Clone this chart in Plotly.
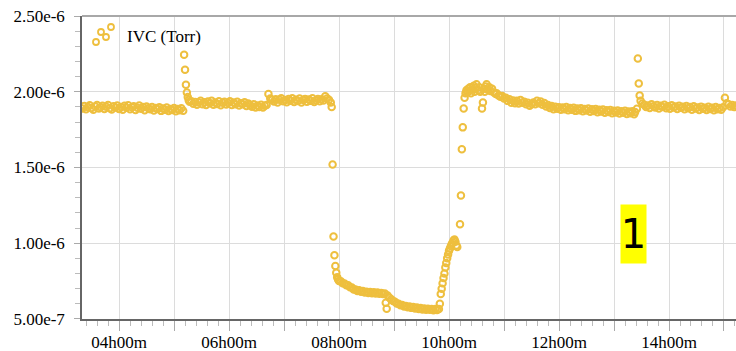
import pandas as pd
import plotly.graph_objects as go

# ---- data: minutes since midnight, IVC pressure in 1e-6 Torr ----
t_a = [200, 202, 204, 206, 208, 210, 212, 214, 216, 218, 220, 222, 224, 226, 228, 230, 232, 234, 236, 238,
       240, 242, 244, 246, 248, 250, 252, 254, 256, 258, 260, 262, 264, 266, 268, 270, 272, 274, 276, 278,
       280, 282, 284, 286, 288, 290, 292, 294, 296, 298, 300, 302, 304, 306, 308, 310]
v_a = [1.890, 1.906, 1.884, 1.899, 1.911, 1.893, 1.881, 1.903, 1.912, 1.889, 1.898, 1.908, 1.886, 1.901, 1.913, 1.892, 1.883, 1.905, 1.896, 1.910,
       1.887, 1.900, 1.882, 1.907, 1.894, 1.911, 1.885, 1.898, 1.904, 1.880, 1.895, 1.909, 1.888, 1.899, 1.878, 1.903, 1.891, 1.884, 1.900, 1.876,
       1.893, 1.886, 1.898, 1.874, 1.890, 1.882, 1.896, 1.873, 1.887, 1.879, 1.893, 1.871, 1.886, 1.878, 1.891, 1.875]

t_b = [311, 312, 313, 314, 315, 316, 317,
       319, 321, 323, 325, 327, 329, 331, 333, 335, 337, 339, 341, 343, 345, 347, 349, 351, 353, 355, 357,
       359, 361, 363, 365, 367, 369, 371, 373, 375, 377, 379, 381, 383, 385, 387, 389, 391, 393, 395, 397,
       399, 401, 403, 405, 407]
v_b = [2.245, 2.145, 2.046, 1.995, 1.965, 1.945, 1.935,
       1.938, 1.921, 1.933, 1.914, 1.929, 1.941, 1.918, 1.931, 1.912, 1.936, 1.924, 1.940, 1.915, 1.930, 1.920, 1.937, 1.911, 1.928, 1.934, 1.916,
       1.926, 1.938, 1.913, 1.929, 1.918, 1.934, 1.909, 1.925, 1.917, 1.931, 1.906, 1.922, 1.912, 1.902, 1.918, 1.897, 1.910, 1.900, 1.915, 1.896,
       1.908, 1.912, 1.985, 1.955, 1.947]

t_c = [409, 411, 413, 415, 417, 419, 421, 423, 425, 427, 429, 431, 433, 435, 437, 439, 441, 443, 445, 447,
       449, 451, 453, 455, 457, 459, 461, 463, 465, 467, 469, 471, 472, 473, 474, 475, 476, 477, 478, 479, 480]
v_c = [1.936, 1.951, 1.930, 1.947, 1.957, 1.938, 1.945, 1.931, 1.953, 1.941, 1.958, 1.933, 1.948, 1.939, 1.955, 1.929, 1.946, 1.952, 1.935, 1.949,
       1.940, 1.957, 1.932, 1.944, 1.953, 1.937, 1.950, 1.942, 1.970, 1.955, 1.948, 1.930, 1.900, 1.520, 1.045, 0.920, 0.850, 0.805, 0.775, 0.760, 0.750]

t_d = [482, 484, 486, 488, 490, 492, 494, 496, 498, 500, 502, 504, 506, 508, 510, 512, 514, 516, 518, 520,
       522, 524, 526, 528, 530, 531, 532, 533, 535, 537, 539, 541, 543, 545, 547, 549, 551, 553, 555, 557,
       559, 561, 563, 565, 567, 569, 571, 573, 575, 577, 579, 581, 583, 585, 587, 589]
v_d = [0.748, 0.736, 0.734, 0.722, 0.722, 0.709, 0.708, 0.695, 0.694, 0.684, 0.689, 0.680, 0.684, 0.675, 0.680, 0.672, 0.677, 0.669, 0.676, 0.668,
       0.674, 0.667, 0.672, 0.664, 0.668, 0.607, 0.567, 0.655, 0.640, 0.630, 0.618, 0.614, 0.602, 0.600, 0.590, 0.592, 0.582, 0.586, 0.577, 0.582,
       0.573, 0.578, 0.569, 0.575, 0.566, 0.572, 0.563, 0.569, 0.561, 0.567, 0.560, 0.566, 0.558, 0.565, 0.559, 0.566]

t_e = [590, 591, 592, 593, 594, 595, 596, 597, 598, 599, 600, 601, 602, 603, 604, 605, 606, 607, 608, 609,
       612, 613, 614, 615, 616, 617, 618,
       619, 620, 621, 622, 623, 624, 625, 627, 628, 629, 630, 632, 633, 634, 636, 637, 638, 639, 640, 641,
       642, 644, 645, 647, 649, 651]
v_e = [0.600, 0.665, 0.700, 0.735, 0.770, 0.800, 0.840, 0.870, 0.900, 0.925, 0.950, 0.965, 0.980, 0.995, 1.005, 1.020, 1.025, 1.010, 0.985, 0.975,
       1.125, 1.315, 1.620, 1.765, 1.890, 1.960, 1.990,
       2.010, 1.995, 2.020, 2.005, 2.030, 1.990, 2.015, 2.040, 2.000, 2.025, 2.050, 2.010, 2.030, 2.000, 1.890, 1.930, 2.020, 2.000, 2.035, 2.050,
       2.015, 2.030, 2.005, 2.020, 1.995, 1.985]

t_f = [652, 654, 656, 658, 660, 662, 664, 666, 668, 670, 672, 674, 676, 678, 680, 682, 684, 686, 688, 690,
       692, 694, 696, 698, 700, 702, 704, 706, 708, 710, 712, 714, 716, 718, 720, 722, 724, 726, 728, 730,
       732, 734, 736, 738, 740, 742, 744, 746, 748, 750, 752, 754, 756, 758, 760, 762, 764, 766, 768, 770,
       772, 774, 776, 778, 780, 782, 784, 786, 788, 790, 792, 794, 796, 798, 800, 802, 803,
       805, 806, 807, 808, 809, 811]
v_f = [1.990, 1.975, 1.968, 1.972, 1.955, 1.960, 1.940, 1.950, 1.928, 1.942, 1.925, 1.940, 1.922, 1.945, 1.927, 1.935, 1.918, 1.928, 1.908, 1.920,
       1.930, 1.918, 1.940, 1.924, 1.936, 1.915, 1.926, 1.903, 1.912, 1.893, 1.906, 1.885, 1.902, 1.888, 1.898, 1.881, 1.896, 1.884, 1.899, 1.878,
       1.893, 1.882, 1.895, 1.874, 1.890, 1.878, 1.892, 1.871, 1.887, 1.876, 1.889, 1.868, 1.884, 1.873, 1.886, 1.865, 1.881, 1.869, 1.883, 1.862,
       1.878, 1.866, 1.880, 1.859, 1.875, 1.864, 1.877, 1.857, 1.872, 1.861, 1.874, 1.854, 1.869, 1.858, 1.871, 1.852, 1.866,
       1.888, 2.220, 2.055, 1.975, 1.940, 1.922]

t_g = [813, 815, 817, 819, 821, 823, 825, 827, 829, 831, 833, 835, 837, 839, 841, 843, 845, 847, 849, 851,
       853, 855, 857, 859, 861, 863, 865, 867, 869, 871, 873, 875, 877, 879, 881, 883, 885, 887, 889, 891,
       893, 895, 897, 899, 901, 903, 905, 907, 909, 911, 913, 915]
v_g = [1.915, 1.899, 1.910, 1.893, 1.918, 1.904, 1.896, 1.913, 1.890, 1.907, 1.899, 1.915, 1.892, 1.905, 1.888, 1.911, 1.897, 1.903, 1.886, 1.908,
       1.894, 1.901, 1.884, 1.906, 1.891, 1.899, 1.882, 1.904, 1.889, 1.897, 1.880, 1.902, 1.888, 1.895, 1.879, 1.901, 1.886, 1.894, 1.878, 1.899,
       1.885, 1.893, 1.881, 1.898, 1.960, 1.925, 1.918, 1.903, 1.912, 1.899, 1.909, 1.902]

x_tick_hours = [4, 5, 6, 7, 8, 9, 10, 11, 12, 13, 14, 15]
x_tick_text = ["04h00m", "", "06h00m", "", "08h00m", "", "10h00m", "", "12h00m", "", "14h00m", ""]
y_tick_vals = [5e-7, 1e-6, 1.5e-6, 2e-6, 2.5e-6]
y_tick_text = ["5.00e-7", "1.00e-6", "1.50e-6", "2.00e-6", "2.50e-6"]
series_name = "IVC (Torr)"
badge_text = "1"

minutes = t_a + t_b + t_c + t_d + t_e + t_f + t_g
ivc_e6 = v_a + v_b + v_c + v_d + v_e + v_f + v_g
assert len(minutes) == len(ivc_e6)

base = pd.Timestamp("2024-01-01")
t = base + pd.to_timedelta(minutes, unit="m")
y = [v * 1e-6 for v in ivc_e6]

COLOR = "#EEBF3E"
SERIF = "Liberation Serif"

fig = go.Figure()
fig.add_trace(go.Scatter(
    x=t, y=y, mode="markers", name=series_name, showlegend=False,
    marker=dict(symbol="circle-open", size=6.5, color=COLOR, line=dict(width=2, color=COLOR)),
))

W, H = 736, 351
L, R, T, B = 82, 0, 16, 32
pw, ph = W - L - R, H - T - B

def px(xp):
    return (xp - L) / pw

def py(yp):
    return (H - B - yp) / ph

shapes = [
    dict(type="line", xref="paper", yref="paper", x0=0, x1=1, y0=1, y1=1,
         line=dict(color="#a8a8a8", width=2)),
]
for cx, cy in [(96, 42), (101, 32), (106, 37), (111, 27)]:
    r = 3
    shapes.append(dict(type="circle", xref="paper", yref="paper",
                       x0=px(cx - r), x1=px(cx + r), y0=py(cy + r), y1=py(cy - r),
                       line=dict(color=COLOR, width=1.8), fillcolor="rgba(0,0,0,0)"))

annotations = [
    dict(xref="paper", yref="paper", x=px(125), y=py(37), xanchor="left", yanchor="middle",
         text=series_name, showarrow=False, font=dict(family=SERIF, size=17, color="#000")),
    dict(xref="paper", yref="paper", x=px(633.5), y=py(234), xanchor="center", yanchor="middle",
         text=badge_text, showarrow=False, bgcolor="#ffff00", width=25, height=58, borderpad=0,
         font=dict(family="DejaVu Sans", size=40, color="#000")),
]

x_ticks = [base + pd.Timedelta(hours=h) for h in x_tick_hours]

fig.update_layout(
    width=W, height=H,
    font=dict(family=SERIF, size=17, color="#000"),
    margin=dict(l=L, r=R, t=T, b=B, pad=0, autoexpand=False),
    paper_bgcolor="white", plot_bgcolor="white",
    shapes=shapes, annotations=annotations,
    xaxis=dict(
        automargin=False,
        range=[base + pd.Timedelta(minutes=199.6), base + pd.Timedelta(minutes=913.1)],
        tickvals=x_ticks, ticktext=x_tick_text,
        showgrid=True, gridcolor="#dcdcdc", gridwidth=1,
        showline=True, linecolor="#666", linewidth=1.5,
        ticks="outside", ticklen=10, tickcolor="#aaa", tickwidth=1,
        ticklabelstandoff=-3,
        tickfont=dict(family=SERIF, size=17, color="#000"),
        minor=dict(dtick=12 * 60 * 1000, tick0=base + pd.Timedelta(hours=4), ticks="outside",
                   ticklen=5, tickcolor="#bbb", showgrid=False),
        zeroline=False,
    ),
    yaxis=dict(
        automargin=False,
        range=[4.995e-7, 2.5005e-6],
        tickvals=y_tick_vals, ticktext=y_tick_text,
        showgrid=True, gridcolor="#dcdcdc", gridwidth=1,
        showline=True, linecolor="#666", linewidth=1.5,
        ticks="outside", ticklen=6, tickcolor="#aaa", tickwidth=1,
        ticklabelstandoff=6,
        tickfont=dict(family=SERIF, size=17, color="#000"),
        minor=dict(dtick=1e-7, tick0=5e-7, ticks="outside", ticklen=5, tickcolor="#bbb", showgrid=False),
        zeroline=False,
    ),
)

fig.write_html("out.html")
